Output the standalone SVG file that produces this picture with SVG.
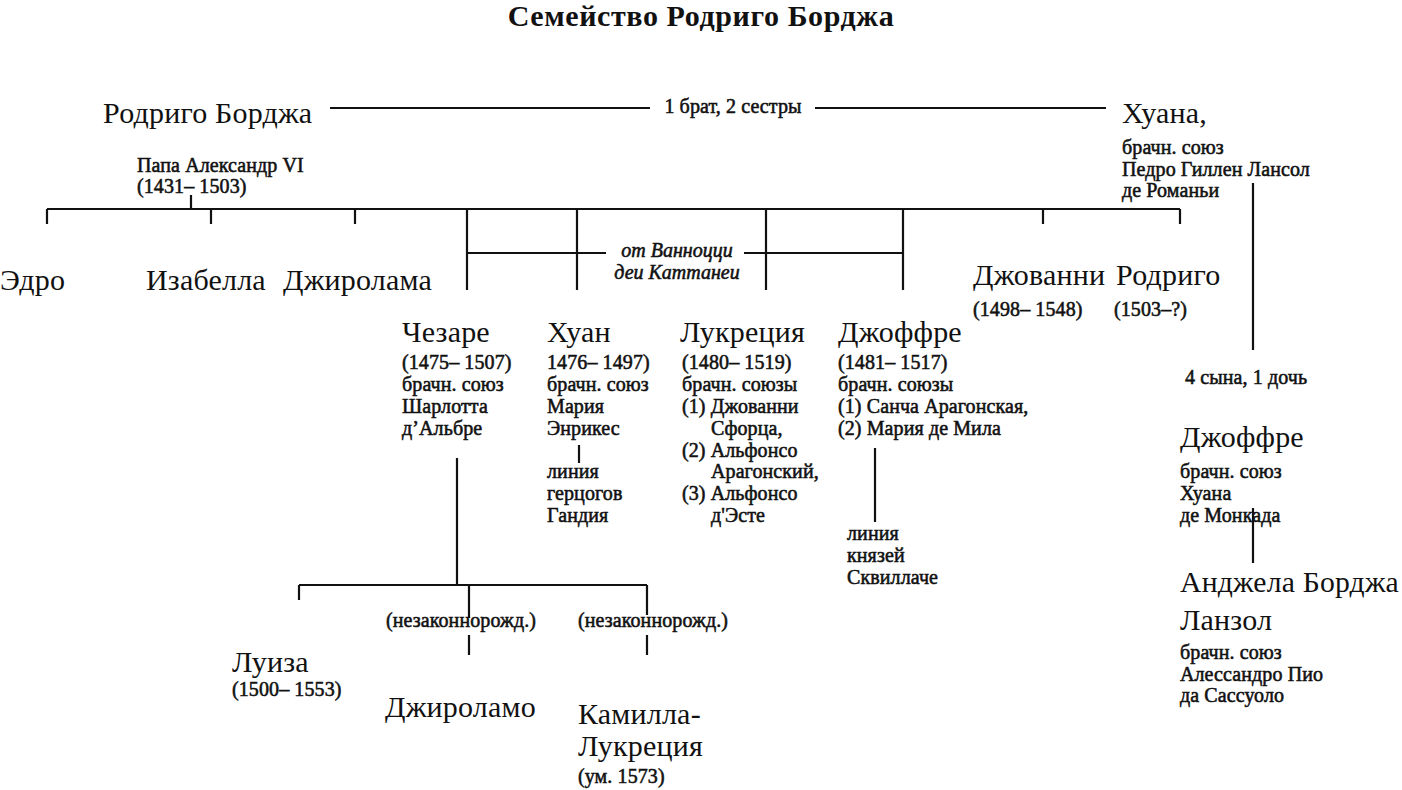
<svg xmlns="http://www.w3.org/2000/svg" width="1402" height="790" viewBox="0 0 1402 790">
<style>
text{font-family:"Liberation Serif","DejaVu Serif",serif;fill:#111}
.title{font-size:30px;font-weight:bold;text-anchor:middle;letter-spacing:0.6px}
.big{font-size:30px;letter-spacing:0.2px}
.sm{font-size:20px;stroke:#111;stroke-width:0.55px;letter-spacing:0.1px}
.it{font-size:20px;font-style:italic;stroke:#111;stroke-width:0.55px;text-anchor:middle}
.ln{stroke:#111;stroke-width:2.2;fill:none}
</style>
<rect width="1402" height="790" fill="#fff"/>
<text class="title" x="701" y="26">Семейство Родриго Борджа</text>

<g id="connectors" class="ln">
<path d="M330,108H650M815,108H1106"/>
<path d="M191,195V209M47,209H1180"/>
<path d="M47,209V224M211,209V224M355,209V224M1043,209V224M1180,209V224"/>
<path d="M467,209V290M577,209V290M766,209V290M903,209V290"/>
<path d="M467,253H606M744,253H903"/>
<path d="M1253,183V350"/>
<path d="M579,445V463"/>
<path d="M875,448V522"/>
<path d="M457,458V585M299,585H647M299,585V600M469,585V618M647,585V615M469,635V655M647,635V655"/>
<path d="M1253,508V563"/>
</g>

<g id="sib-label"><text class="sm" x="733" y="113" text-anchor="middle">1 брат, 2 сестры</text></g>

<g id="rodrigo">
<text class="big" x="103" y="123">Родриго Борджа</text>
<text class="sm" x="137" y="172">Папа Александр VI</text>
<text class="sm" x="137" y="193">(1431– 1503)</text>
</g>

<g id="juana">
<text class="big" x="1122" y="123">Хуана,</text>
<text class="sm" x="1122" y="154">брачн. союз</text>
<text class="sm" x="1122" y="176">Педро Гиллен Лансол</text>
<text class="sm" x="1122" y="197">де Романьи</text>
</g>

<g id="pedro"><text class="big" x="0" y="290">Эдро</text></g>
<g id="isabella"><text class="big" x="146" y="290">Изабелла</text></g>
<g id="girolama"><text class="big" x="283" y="290">Джиролама</text></g>

<g id="vannozza"><text class="it" x="677" y="257">от Ванноцци</text><text class="it" x="677" y="279">деи Каттанеи</text></g>

<g id="giovanni">
<text class="big" x="973" y="285">Джованни</text>
<text class="sm" x="973" y="316">(1498– 1548)</text>
</g>
<g id="rodrigo-jr">
<text class="big" x="1116" y="285">Родриго</text>
<text class="sm" x="1114" y="316">(1503–?)</text>
</g>

<g id="cesare">
<text class="big" x="402" y="342">Чезаре</text>
<text class="sm" x="402" y="369">(1475– 1507)</text>
<text class="sm" x="402" y="391">брачн. союз</text>
<text class="sm" x="402" y="413">Шарлотта</text>
<text class="sm" x="402" y="435">д’Альбре</text>
</g>

<g id="juan">
<text class="big" x="547" y="342">Хуан</text>
<text class="sm" x="547" y="369">1476– 1497)</text>
<text class="sm" x="547" y="391">брачн. союз</text>
<text class="sm" x="547" y="413">Мария</text>
<text class="sm" x="547" y="435">Энрикес</text>
</g>
<g id="gandia">
<text class="sm" x="547" y="478">линия</text>
<text class="sm" x="547" y="500">герцогов</text>
<text class="sm" x="547" y="522">Гандия</text>
</g>

<g id="lucrezia">
<text class="big" x="680" y="342">Лукреция</text>
<text class="sm" x="682" y="369">(1480– 1519)</text>
<text class="sm" x="682" y="391">брачн. союзы</text>
<text class="sm" x="682" y="413">(1) Джованни</text>
<text class="sm" x="711" y="435">Сфорца,</text>
<text class="sm" x="682" y="457">(2) Альфонсо</text>
<text class="sm" x="711" y="478">Арагонский,</text>
<text class="sm" x="682" y="500">(3) Альфонсо</text>
<text class="sm" x="711" y="522">д'Эсте</text>
</g>

<g id="jofre">
<text class="big" x="838" y="342">Джоффре</text>
<text class="sm" x="838" y="369">(1481– 1517)</text>
<text class="sm" x="838" y="391">брачн. союзы</text>
<text class="sm" x="838" y="413">(1) Санча Арагонская,</text>
<text class="sm" x="838" y="435">(2) Мария де Мила</text>
</g>
<g id="squillace">
<text class="sm" x="847" y="540">линия</text>
<text class="sm" x="847" y="562">князей</text>
<text class="sm" x="847" y="584">Сквиллаче</text>
</g>

<g id="juana-children"><text class="sm" x="1185" y="384">4 сына, 1 дочь</text></g>

<g id="jofre-lanzol">
<text class="big" x="1180" y="447">Джоффре</text>
<text class="sm" x="1180" y="478">брачн. союз</text>
<text class="sm" x="1180" y="500">Хуана</text>
<text class="sm" x="1180" y="522">де Монкада</text>
</g>

<g id="angela">
<text class="big" x="1180" y="592" textLength="219" lengthAdjust="spacingAndGlyphs">Анджела Борджа</text>
<text class="big" x="1180" y="630">Ланзол</text>
<text class="sm" x="1180" y="659">брачн. союз</text>
<text class="sm" x="1180" y="681">Алессандро Пио</text>
<text class="sm" x="1180" y="702">да Сассуоло</text>
</g>

<g id="luisa">
<text class="big" x="232" y="672">Луиза</text>
<text class="sm" x="232" y="696">(1500– 1553)</text>
</g>
<g id="girolamo">
<text class="sm" x="461" y="627" text-anchor="middle">(незаконнорожд.)</text>
<text class="big" x="385" y="717">Джироламо</text>
</g>
<g id="camilla">
<text class="sm" x="653" y="627" text-anchor="middle">(незаконнорожд.)</text>
<text class="big" x="578" y="724">Камилла-</text>
<text class="big" x="578" y="756">Лукреция</text>
<text class="sm" x="578" y="783">(ум. 1573)</text>
</g>
</svg>
